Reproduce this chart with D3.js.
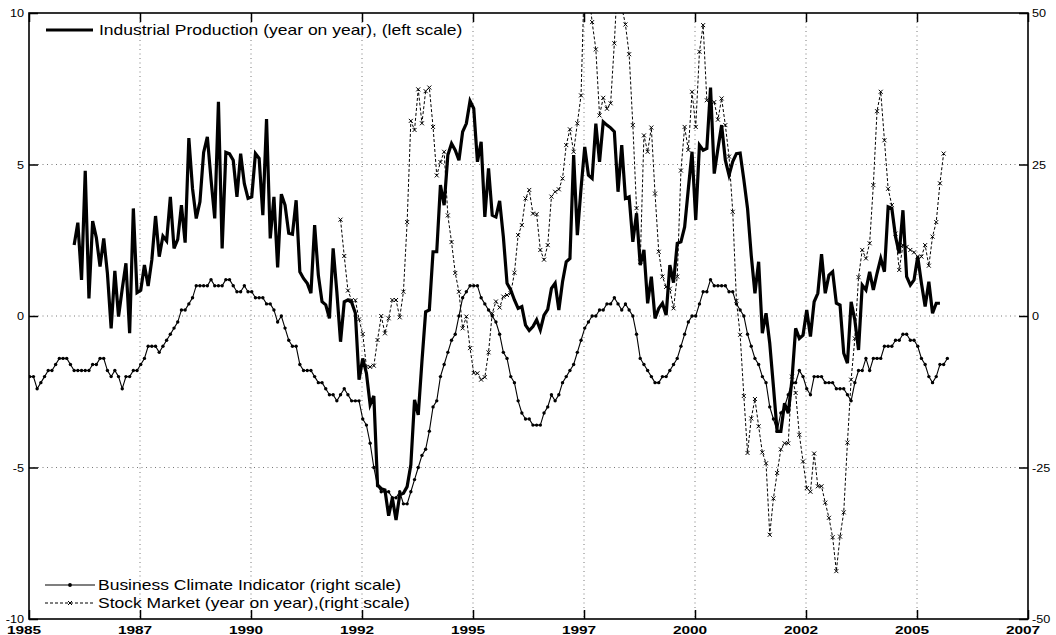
<!DOCTYPE html>
<html><head><meta charset="utf-8">
<script src="https://cdn.jsdelivr.net/npm/d3@7/dist/d3.min.js"></script>
<style>
html,body{margin:0;padding:0;background:#fff;}
svg{display:block;}
text{font-family:"Liberation Sans",Arial,Helvetica,sans-serif;fill:#000;}
</style></head>
<body>
<svg id="chart" width="1056" height="635"></svg>
<script>
// ---------------- DATA ----------------
const xTickValues = [1985, 1987.5, 1990, 1992.5, 1995, 1997.5, 2000, 2002.5, 2005, 2007.5];
const xTickLabels = ["1985","1987","1990","1992","1995","1997","2000","2002","2005","2007"];
const leftTicks = [-10, -5, 0, 5, 10];
const leftTickLabels = ["-10","-5","0","5","10"];
const rightTicks = [-50, -25, 0, 25, 50];
const rightTickLabels = ["-50","-25","0","25","50"];

const legendLabels = [
  "Industrial Production (year on year), (left scale)",
  "Business Climate Indicator (right scale)",
  "Stock Market (year on year),(right scale)"
];

// monthly series; start = month index from Jan 1985
const ipStart = 12;
const ipValues = [
 2.34,3.08,1.19,4.79,0.58,3.13,2.59,1.63,2.56,1.4,-0.41,1.49,
 -0.02,0.9,1.74,-0.57,3.55,0.77,0.85,1.68,0.99,1.85,3.30,1.96,
 2.64,2.48,3.93,2.23,2.53,3.66,2.42,5.87,4.2,3.22,3.77,5.4,
 5.91,4.5,3.22,7.07,2.23,5.4,5.35,5.14,3.93,5.36,4.37,3.88,
 3.93,5.36,5.2,3.33,6.5,2.56,3.93,1.6,4.02,3.66,2.73,2.7,
 3.82,1.46,1.24,1.08,0.75,3.0,1.35,0.47,0.37,-0.08,2.23,0.8,
 -0.85,0.47,0.53,0.45,0.1,-2.1,-1.4,-1.89,-2.93,-2.64,-5.57,-5.7,
 -5.74,-6.59,-6.01,-6.73,-5.9,-5.85,-5.63,-4.91,-2.77,-3.26,-1.5,0.14,
 0.2,2.12,2.12,4.32,3.66,5.31,5.69,5.47,5.14,6.08,6.35,7.1,
 6.85,5.09,5.75,3.27,4.87,3.33,3.27,3.8,2.62,1.08,0.86,0.53,
 0.25,0.31,-0.3,-0.48,-0.35,-0.13,-0.46,0.03,0.22,0.91,1.08,0.2,
 1.13,1.79,1.9,5.31,2.67,4.21,5.58,4.65,4.54,6.35,5.09,6.41,
 6.3,6.21,6.08,4.1,5.64,3.88,3.93,2.45,3.39,1.68,2.18,0.42,
 1.3,-0.08,0.25,0.42,0.03,1.68,1.1,2.4,2.45,2.94,4.2,5.42,
 3.17,5.64,5.47,5.53,7.54,4.7,5.53,6.3,5.14,4.65,5.1,5.36,
 5.38,4.5,3.55,2.0,0.75,1.79,-0.57,0.09,-0.9,-2.33,-3.81,-3.81,
 -2.88,-3.21,-2.11,-0.41,-0.74,-0.63,0.2,-0.68,0.47,0.75,2.04,0.75,
 1.35,1.46,0.42,0.36,-1.23,-1.56,0.47,-0.13,-1.12,1.02,0.86,1.46,
 0.86,1.41,1.9,1.46,3.6,3.55,2.62,2.07,3.49,1.3,1.02,1.19,
 1.96,1.08,0.31,1.13,0.09,0.42,0.42
];

const bciStart = 0;
const bciValues = [
 -10,-10,-12,-11,-10,-9,-9,-8,-7,-7,-7,-8,
 -9,-9,-9,-9,-9,-8,-8,-7,-7,-9,-10,-9,
 -10,-12,-10,-10,-9,-9,-8,-7,-5,-5,-5,-6,
 -5,-4,-3,-2,-1,1,1,2,3,5,5,5,
 5,6,5,5,5,6,6,5,4,4,5,4,
 4,3,3,3,2,2,1,-1,0,-2,-4,-5,
 -5,-8,-9,-9,-9,-10,-11,-11,-12,-13,-13,-14,
 -13,-12,-13,-14,-14,-14,-17,-18,-21,-25,-28,-29,
 -29,-29,-30,-30,-29,-31,-31,-29,-27,-25,-23,-22,
 -19,-15,-14,-10,-8,-6,-4,-3,0,3,4,5,
 5,5,3,2,1,0,-1,-3,-6,-7,-10,-11,
 -14,-16,-17,-17,-18,-18,-18,-16,-15,-13,-14,-13,
 -11,-10,-9,-8,-6,-4,-2,-1,0,0,1,1,
 2,2,3,2,1,2,1,0,-3,-7,-8,-9,
 -10,-11,-11,-10,-10,-9,-8,-7,-5,-3,-1,0,
 0,2,4,4,6,5,5,5,5,4,4,2,
 1,0,-3,-5,-7,-8,-10,-11,-15,-17,-19,-16,
 -15,-13,-11,-11,-9,-10,-12,-13,-10,-10,-10,-11,
 -11,-11,-12,-12,-12,-13,-14,-11,-9,-9,-7,-9,
 -7,-7,-7,-5,-5,-5,-4,-4,-3,-3,-4,-4,
 -5,-7,-8,-10,-11,-10,-8,-8,-7
];

const smStart = 84;
const smValues = [
 15.9,9.9,4.2,2.6,2.6,-0.55,-2.97,-8.4,-8.4,-8.2,-3.96,0,
 -2.86,-0.38,2.64,2.64,-0.22,4.0,15.5,32.2,30.7,37.4,31.8,37.1,
 37.7,31.2,23.2,25.4,27.1,16.6,12.2,7.1,4.0,-2.03,-0.1,-5.3,
 -9.4,-9.45,-10.5,-10.1,-6.0,0.44,2.4,1.4,3.2,3.46,3.74,7.14,
 13.35,15.0,19.4,20.8,16.9,16.8,10.9,9.3,11.7,19.7,20.5,20.9,
 22.7,28.2,30.8,27.1,31.8,36.4,58,54,48.5,44,33.1,36,
 34.2,35.1,45,57,51,48.1,43.2,31.5,17.8,8.95,29.8,27.1,
 31.1,20.2,10.6,6.5,4.8,4.5,1.27,6.5,24,31.2,27.4,37.0,
 31.2,43.6,48.0,35.6,34.8,35.3,32.4,35.9,31.5,26.3,17.2,2.5,
 -3.1,-13.2,-22.6,-16.9,-13.7,-18.2,-22.5,-24.3,-36.1,-30.1,-25.9,-22.0,
 -21.0,-21.0,-10,-12.7,-19.6,-24.0,-28.4,-29.0,-22.7,-28.1,-28.1,-30.8,
 -33.3,-36.5,-42.1,-36.4,-32.4,-20.9,-10.5,-3.7,6.4,10.9,9.5,12.0,
 21.6,33.8,37.0,29.0,21.0,18.3,13.6,7.6,11.7,11.4,10.9,10.5,
 9.8,9.8,11.7,8.3,13.1,15.5,21.9,26.8
];

// ---------------- CHART ----------------
const margin = {left: 29, right: 1028, top: 13, bottom: 619};
const svg = d3.select("#chart");

const x = d3.scaleLinear().domain([1985, 2007.5]).range([margin.left, margin.right]);
const yL = d3.scaleLinear().domain([-10, 10]).range([margin.bottom, margin.top]);
const yR = d3.scaleLinear().domain([-50, 50]).range([margin.bottom, margin.top]);

const toSeries = (start, vals) => vals.map((v, i) => ({t: 1985 + (start + i + 0.2) / 12, v}));
const ip = toSeries(ipStart, ipValues);
const bci = toSeries(bciStart, bciValues);
const sm = toSeries(smStart, smValues);

svg.append("defs").append("clipPath").attr("id", "plotclip")
  .append("rect").attr("x", margin.left).attr("y", margin.top)
  .attr("width", margin.right - margin.left).attr("height", margin.bottom - margin.top);

// grid
const grid = svg.append("g").attr("stroke", "#555").attr("stroke-width", 0.8)
  .attr("stroke-dasharray", "1,3.5");
xTickValues.slice(1, -1).forEach(t => {
  grid.append("line").attr("x1", x(t)).attr("x2", x(t))
    .attr("y1", margin.top).attr("y2", margin.bottom);
});
leftTicks.slice(1, -1).forEach(v => {
  grid.append("line").attr("x1", margin.left).attr("x2", margin.right)
    .attr("y1", yL(v)).attr("y2", yL(v));
});

// axes using d3 axis generators (inward ticks)
const tickLen = 9;
const axB = svg.append("g").attr("transform", `translate(0,${margin.bottom})`)
  .call(d3.axisTop(x).tickValues(xTickValues).tickSize(tickLen).tickFormat(""));
const axT = svg.append("g").attr("transform", `translate(0,${margin.top})`)
  .call(d3.axisBottom(x).tickValues(xTickValues).tickSize(tickLen).tickFormat(""));
const axL = svg.append("g").attr("transform", `translate(${margin.left},0)`)
  .call(d3.axisRight(yL).tickValues(leftTicks).tickSize(tickLen).tickFormat(""));
const axR = svg.append("g").attr("transform", `translate(${margin.right},0)`)
  .call(d3.axisLeft(yR).tickValues(rightTicks).tickSize(tickLen).tickFormat(""));
[axB, axT, axL, axR].forEach(a => {
  a.select(".domain").remove();
  a.selectAll(".tick line").attr("stroke", "#000").attr("stroke-width", 1.5);
});

// frame
svg.append("rect").attr("x", margin.left).attr("y", margin.top)
  .attr("width", margin.right - margin.left).attr("height", margin.bottom - margin.top)
  .attr("fill", "none").attr("stroke", "#000").attr("stroke-width", 1.6);

// tick labels (stretched horizontally like the original)
const stretchTick = 1.4, stretchY = 1.15, stretchLeg = 1.25;
xTickValues.forEach((t, i) => {
  svg.append("text").attr("transform", `translate(${x(t) - 5},634) scale(${stretchTick},1)`)
    .attr("text-anchor", "middle").attr("font-size", 11).attr("font-weight", "bold")
    .text(xTickLabels[i]);
});
leftTicks.forEach((v, i) => {
  svg.append("text").attr("transform", `translate(24,${yL(v) + 4}) scale(${stretchY},1)`)
    .attr("text-anchor", "end").attr("font-size", 11).text(leftTickLabels[i]);
});
rightTicks.forEach((v, i) => {
  svg.append("text").attr("transform", `translate(1032,${yR(v) + 4}) scale(${stretchY},1)`)
    .attr("text-anchor", "start").attr("font-size", 11).text(rightTickLabels[i]);
});

// series
const plot = svg.append("g").attr("clip-path", "url(#plotclip)");
const lineL = d3.line().x(d => x(d.t)).y(d => yL(d.v));
const lineR = d3.line().x(d => x(d.t)).y(d => yR(d.v));

// business climate
plot.append("path").datum(bci).attr("d", lineR).attr("fill", "none")
  .attr("stroke", "#000").attr("stroke-width", 1.1);
plot.append("g").selectAll("circle").data(bci).join("circle")
  .attr("cx", d => x(d.t)).attr("cy", d => yR(d.v)).attr("r", 1.7).attr("fill", "#000");

// stock market
plot.append("path").datum(sm).attr("d", lineR).attr("fill", "none")
  .attr("stroke", "#000").attr("stroke-width", 1).attr("stroke-dasharray", "3,2");
const xm = 2;
const xMarker = (cx, cy) => `M${cx - xm},${cy - xm}L${cx + xm},${cy + xm}M${cx - xm},${cy + xm}L${cx + xm},${cy - xm}`;
plot.append("path").attr("d", sm.map(d => xMarker(x(d.t), yR(d.v))).join(""))
  .attr("stroke", "#000").attr("stroke-width", 1).attr("fill", "none");

// industrial production
plot.append("path").datum(ip).attr("d", lineL).attr("fill", "none")
  .attr("stroke", "#000").attr("stroke-width", 3.2).attr("stroke-linejoin", "miter")
  .attr("stroke-miterlimit", 4);

// legends
const leg = svg.append("g");
leg.append("line").attr("x1", 46).attr("x2", 93).attr("y1", 30).attr("y2", 30)
  .attr("stroke", "#000").attr("stroke-width", 3.2);
leg.append("text").attr("transform", `translate(99,35) scale(${stretchLeg},1)`)
  .attr("font-size", 14).text(legendLabels[0]);

leg.append("line").attr("x1", 45).attr("x2", 95).attr("y1", 585).attr("y2", 585)
  .attr("stroke", "#000").attr("stroke-width", 1.1);
leg.append("circle").attr("cx", 70).attr("cy", 585).attr("r", 1.9).attr("fill", "#000");
leg.append("text").attr("transform", `translate(98,590) scale(${stretchLeg},1)`)
  .attr("font-size", 14).text(legendLabels[1]);

leg.append("line").attr("x1", 45).attr("x2", 95).attr("y1", 603).attr("y2", 603)
  .attr("stroke", "#000").attr("stroke-width", 1).attr("stroke-dasharray", "3,2");
leg.append("path").attr("d", xMarker(70, 603)).attr("stroke", "#000").attr("stroke-width", 1);
leg.append("text").attr("transform", `translate(98,608) scale(${stretchLeg},1)`)
  .attr("font-size", 14).text(legendLabels[2]);
</script>
</body></html>
